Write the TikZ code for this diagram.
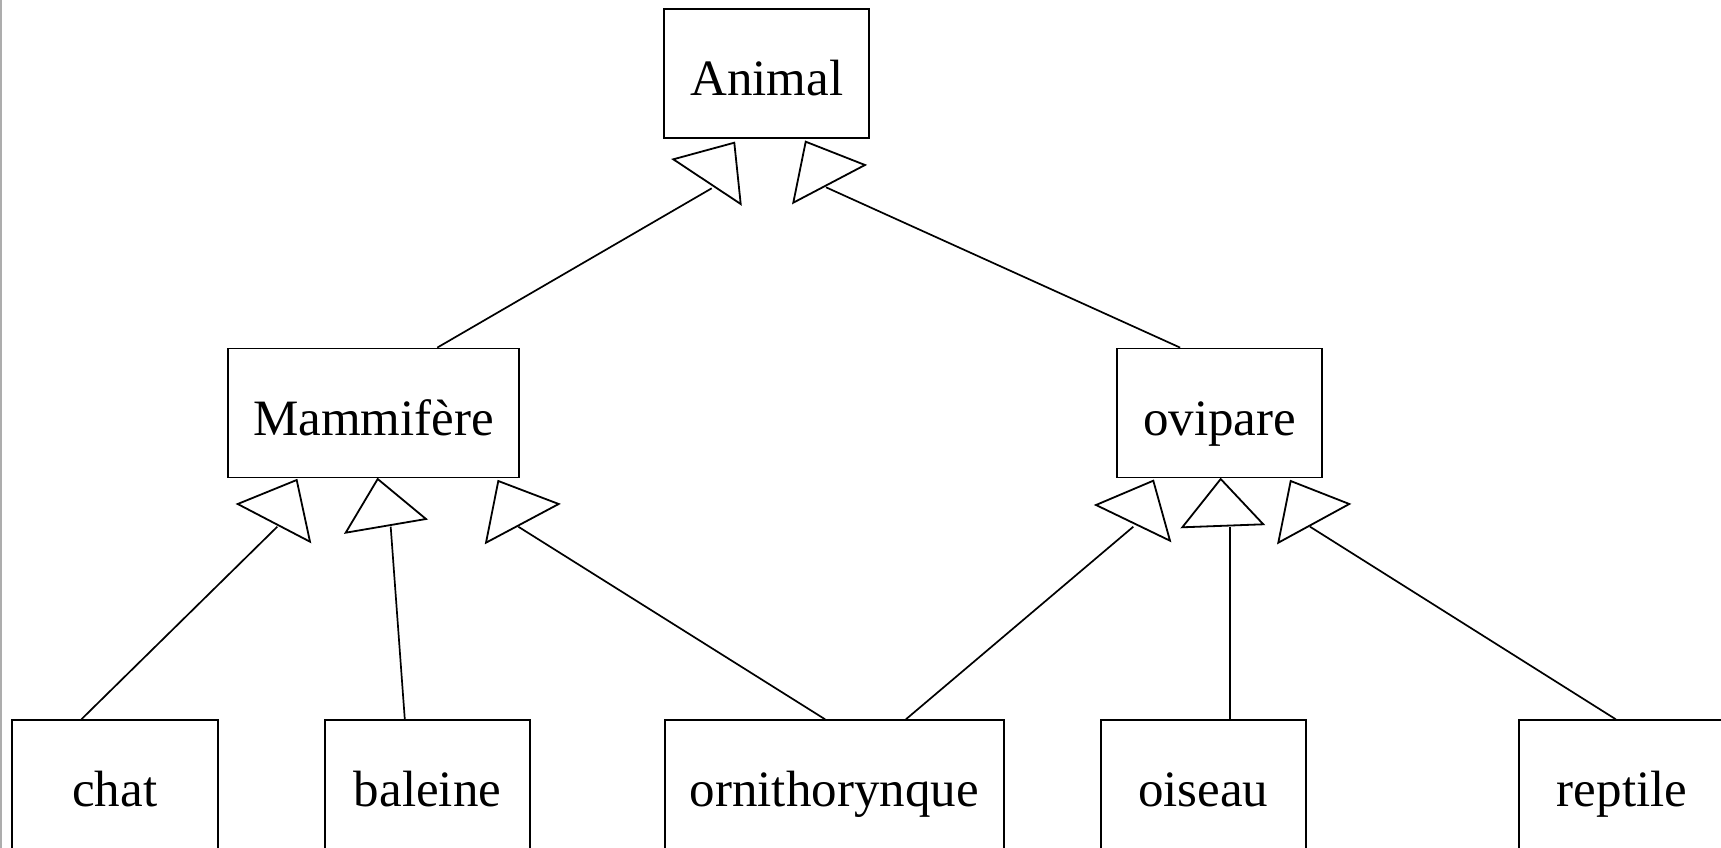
\documentclass[tikz,border=0pt]{standalone}
\usepackage{fontspec}
\setmainfont{Liberation Serif}
\usetikzlibrary{calc}
\begin{document}
\begin{tikzpicture}[x=1pt,y=-1pt,
  cls/.style={draw, line width=1.8pt, inner sep=0pt, minimum height=129pt,
    text height=44pt, text depth=0pt,
    font=\fontsize{51}{60}\selectfont},
  link/.style={line width=1.7pt},
  tri/.style={line width=1.8pt, line join=miter, fill=white}]
\useasboundingbox (0,0) rectangle (1721,848);
\clip (0,0) rectangle (1721,848);
\fill[white] (0,0) rectangle (1721,848);
\draw[black!32, line width=1.5pt] (0.75,0) -- (0.75,848);

% classes
\node[cls, minimum width=205pt] (animal) at (766.7,73.3) {Animal};
\node[cls, minimum width=291pt] (mam) at (373.7,413) {Mammifère};
\node[cls, minimum width=205.6pt] (ovi) at (1219.5,413) {ovipare};
\node[cls, minimum width=206pt] (chat) at (114.7,784.7) {chat};
\node[cls, minimum width=205pt] (baleine) at (427.6,784.7) {baleine};
\node[cls, minimum width=339pt] (orni) at (834.2,784.7) {ornithorynque};
\node[cls, minimum width=205pt] (oiseau) at (1203.2,784.7) {oiseau};
\node[cls, minimum width=205.6pt] (reptile) at (1622.1,784.7) {reptile};

% inheritance triangles
\draw[tri] (673.3,159.3) -- (734.3,142.7) -- (740.7,204) -- cycle;
\draw[tri] (793.3,202.7) -- (805.7,141.7) -- (865,165) -- cycle;
\draw[tri] (237.7,504) -- (296.7,480) -- (310,541.7) -- cycle;
\draw[tri] (345.7,532.7) -- (377.7,479) -- (426,519) -- cycle;
\draw[tri] (486,542.7) -- (498.3,481) -- (558.7,504) -- cycle;
\draw[tri] (1096,505) -- (1153.3,480.7) -- (1170,540.7) -- cycle;
\draw[tri] (1182.3,527.3) -- (1220.7,479) -- (1263.3,524.3) -- cycle;
\draw[tri] (1278.3,542.7) -- (1290.7,481) -- (1349.3,504) -- cycle;

% connector ends at the triangles
\coordinate (tA1) at (711.7,188.3);
\coordinate (tA2) at (826,187.3);
\coordinate (tM1) at (277.3,526.7);
\coordinate (tM2) at (390.7,526.7);
\coordinate (tM3) at (518.3,526.7);
\coordinate (tO1) at (1133.3,526.7);
\coordinate (tO2) at (1230,526.7);
\coordinate (tO3) at (1310,526.7);

% generalisation links
\draw[link] ($(mam.north west)+(210,0)$) -- (tA1);
\draw[link] ($(ovi.north west)+(64.3,0)$) -- (tA2);
\draw[link] ($(chat.north west)+(70.6,0)$) -- (tM1);
\draw[link] ($(baleine.north west)+(80.6,0)$) -- (tM2);
\draw[link] ($(orni.north west)+(161.3,0)$) -- (tM3);
\draw[link] ($(orni.north west)+(242.1,0)$) -- (tO1);
\draw[link] (oiseau.north -| tO2) -- (tO2);
\draw[link] ($(reptile.north west)+(97.4,0)$) -- (tO3);
\end{tikzpicture}
\end{document}
